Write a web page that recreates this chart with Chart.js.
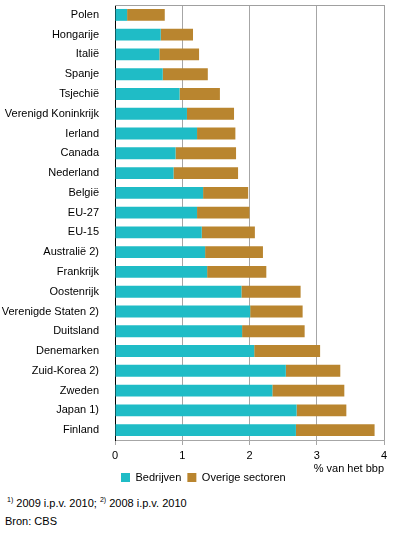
<!DOCTYPE html>
<html>
<head>
<meta charset="utf-8">
<script src="https://cdn.jsdelivr.net/npm/chart.js@4"></script>
<style>
  body { margin: 0; background: #fff; font-family: "Liberation Sans", Arial, sans-serif; }
  #wrap { position: relative; width: 396px; height: 493px; }
  .noot { position: absolute; font-size: 11px; color: #000; }
  .noot sup { font-size: 7px; }
</style>
</head>
<body>
<div id="wrap"><canvas id="grafiek"></canvas></div>
<div class="noot" style="top: 496px; left: 7px;"><sup>1)</sup> 2009 i.p.v. 2010; <sup>2)</sup> 2008 i.p.v. 2010</div>
<div class="noot" style="top: 515px; left: 5px;">Bron: CBS</div>
<script>
// Uitgaven aan R&D, % van het bbp
const landen = ['Polen', 'Hongarije', 'Italië', 'Spanje', 'Tsjechië', 'Verenigd Koninkrijk', 'Ierland',
    'Canada', 'Nederland', 'België', 'EU-27', 'EU-15', 'Australië 2)', 'Frankrijk', 'Oostenrijk',
    'Verenigde Staten 2)', 'Duitsland', 'Denemarken', 'Zuid-Korea 2)', 'Zweden', 'Japan 1)', 'Finland'];
const bedrijven = [0.18, 0.68, 0.66, 0.71, 0.96, 1.07, 1.22, 0.90, 0.87, 1.31, 1.22, 1.29, 1.34, 1.37,
    1.88, 2.01, 1.89, 2.07, 2.54, 2.34, 2.70, 2.69];
const overige = [0.56, 0.48, 0.59, 0.67, 0.60, 0.70, 0.57, 0.90, 0.96, 0.67, 0.78, 0.79, 0.86, 0.88,
    0.88, 0.78, 0.93, 0.98, 0.81, 1.07, 0.74, 1.17];
const xTicks = [0, 1, 2, 3, 4];

const lettertype = { family: '"Liberation Sans", Arial, sans-serif', size: 11 };

// Kader rond het plotgebied (boven en rechts grijs)
const kader = {
    id: 'kader',
    afterDraw(chart) {
        const { ctx, chartArea: a } = chart;
        ctx.save();
        ctx.strokeStyle = '#a0a0a0';
        ctx.lineWidth = 1;
        ctx.beginPath();
        ctx.moveTo(a.left, a.top + 0.5);
        ctx.lineTo(a.right + 0.5, a.top + 0.5);
        ctx.lineTo(a.right + 0.5, a.bottom);
        ctx.stroke();
        ctx.restore();
    }
};

new Chart(document.getElementById('grafiek'), {
    type: 'bar',
    data: {
        labels: landen,
        datasets: [
            { label: 'Bedrijven', data: bedrijven, backgroundColor: '#1fbcc6' },
            { label: 'Overige sectoren', data: overige, backgroundColor: '#b9852f' }
        ]
    },
    options: {
        indexAxis: 'y',
        responsive: true,
        maintainAspectRatio: false,
        animation: false,
        layout: { padding: { top: 5, right: 12, left: 0, bottom: 0 } },
        datasets: { bar: { barPercentage: 0.6, categoryPercentage: 1 } },
        scales: {
            x: {
                stacked: true,
                min: 0,
                max: 4,
                afterBuildTicks: s => { s.ticks = xTicks.map(v => ({ value: v })); },
                afterFit: s => { s.height = 26; },
                grid: { color: '#a6a6a6', tickLength: 5, drawTicks: true },
                border: { color: '#a6a6a6' },
                ticks: { color: '#000', font: lettertype, padding: 4 },
                title: { display: true, text: '% van het bbp', align: 'end', color: '#000', font: lettertype, padding: { top: 0, bottom: -10 } }
            },
            y: {
                stacked: true,
                afterFit: s => { s.width = 115; s.paddingTop = 0; s.paddingBottom = 0; },
                grid: { display: false },
                border: { color: '#000' },
                ticks: { color: '#000', font: lettertype, padding: 8, autoSkip: false }
            }
        },
        plugins: {
            legend: {
                position: 'bottom',
                align: 'start',
                fullSize: false,
                labels: { color: '#000', font: lettertype, boxWidth: 9, boxHeight: 9, padding: 6 }
            },
            tooltip: { enabled: false }
        }
    },
    plugins: [kader]
});
</script>
</body>
</html>
